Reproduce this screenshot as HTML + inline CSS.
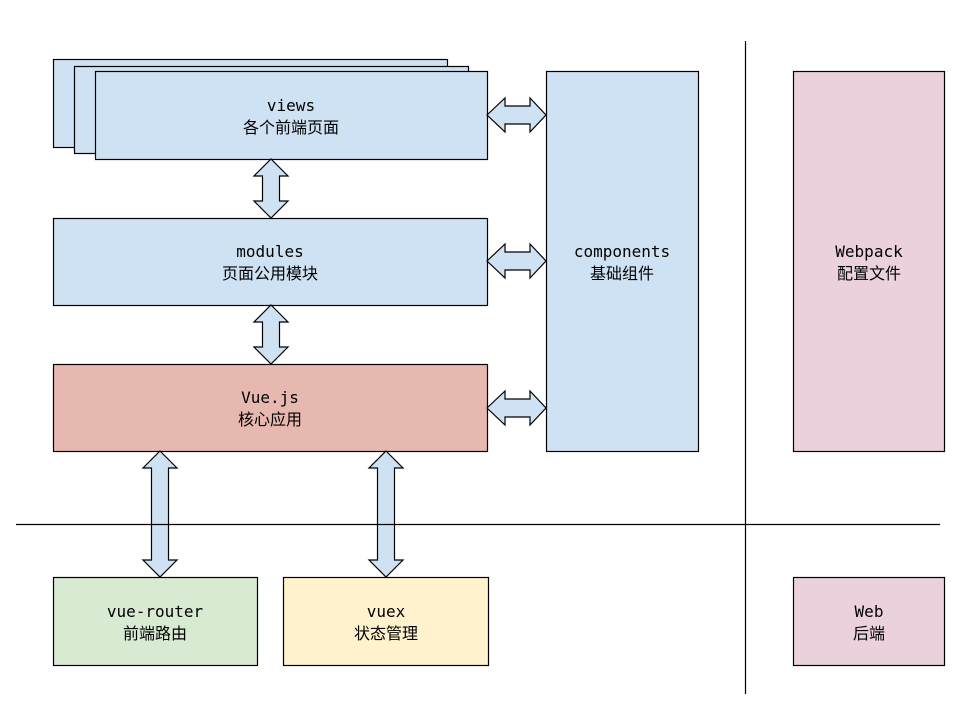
<!DOCTYPE html>
<html><head><meta charset="utf-8"><style>
body{margin:0;background:#fff}
svg text{font-family:"DejaVu Sans Mono","Liberation Mono","Noto Sans CJK SC",monospace;font-size:16px;fill:#000;text-anchor:middle}
text.c{font-family:"Noto Sans CJK SC","WenQuanYi Zen Hei",sans-serif}
</style></head><body>
<svg width="960" height="720" xmlns="http://www.w3.org/2000/svg">
<g stroke="#000" stroke-width="1.2">
<rect x="53.5" y="59.5" width="394" height="88" fill="#cfe2f3"/>
<rect x="74.5" y="66.5" width="394" height="87" fill="#cfe2f3"/>
<rect x="95.5" y="71.5" width="392" height="88" fill="#cfe2f3"/>
<rect x="53.5" y="218.5" width="434" height="87" fill="#cfe2f3"/>
<rect x="53.5" y="364.5" width="434" height="87" fill="#e7b8b0"/>
<rect x="546.5" y="71.5" width="152" height="380" fill="#cfe2f3"/>
<rect x="793.5" y="71.5" width="151" height="380" fill="#ead1dc"/>
<rect x="53.5" y="577.5" width="204" height="88" fill="#d9ead3"/>
<rect x="283.5" y="577.5" width="205" height="88" fill="#fff2cc"/>
<rect x="793.5" y="577.5" width="151" height="88" fill="#ead1dc"/>
<g fill="#cfe2f3">
<!-- vertical arrows -->
<polygon points="271,159 288,176 279.5,176 279.5,201 288,201 271,218 254,201 262.5,201 262.5,176 254,176"/>
<polygon points="271,305 288,322 279.5,322 279.5,347 288,347 271,364 254,347 262.5,347 262.5,322 254,322"/>
<polygon points="160,451 177,468 168.5,468 168.5,560 177,560 160,577 143,560 151.5,560 151.5,468 143,468"/>
<polygon points="386,451 403,468 394.5,468 394.5,560 403,560 386,577 369,560 377.5,560 377.5,468 369,468"/>
<!-- horizontal arrows -->
<polygon points="487,115 505,98 505,106 530,106 530,98 546,115 530,132 530,124 505,124 505,132"/>
<polygon points="487,261 505,244 505,252 530,252 530,244 546,261 530,278 530,270 505,270 505,278"/>
<polygon points="487,408 505,391 505,399 530,399 530,391 546,408 530,425 530,417 505,417 505,425"/>
</g>
<line x1="745.5" y1="41" x2="745.5" y2="694"/>
<line x1="16" y1="524.5" x2="940" y2="524.5"/>
</g>
<text x="291" y="111">views</text><text class="c" x="291" y="133">各个前端页面</text>
<text x="270" y="257">modules</text><text class="c" x="270" y="279">页面公用模块</text>
<text x="270" y="403">Vue.js</text><text class="c" x="270" y="425">核心应用</text>
<text x="622" y="257">components</text><text class="c" x="622" y="279">基础组件</text>
<text x="869" y="257">Webpack</text><text class="c" x="869" y="279">配置文件</text>
<text x="155" y="617">vue-router</text><text class="c" x="155" y="639">前端路由</text>
<text x="386" y="617">vuex</text><text class="c" x="386" y="639">状态管理</text>
<text x="869" y="617">Web</text><text class="c" x="869" y="639">后端</text>
</svg>
</body></html>
